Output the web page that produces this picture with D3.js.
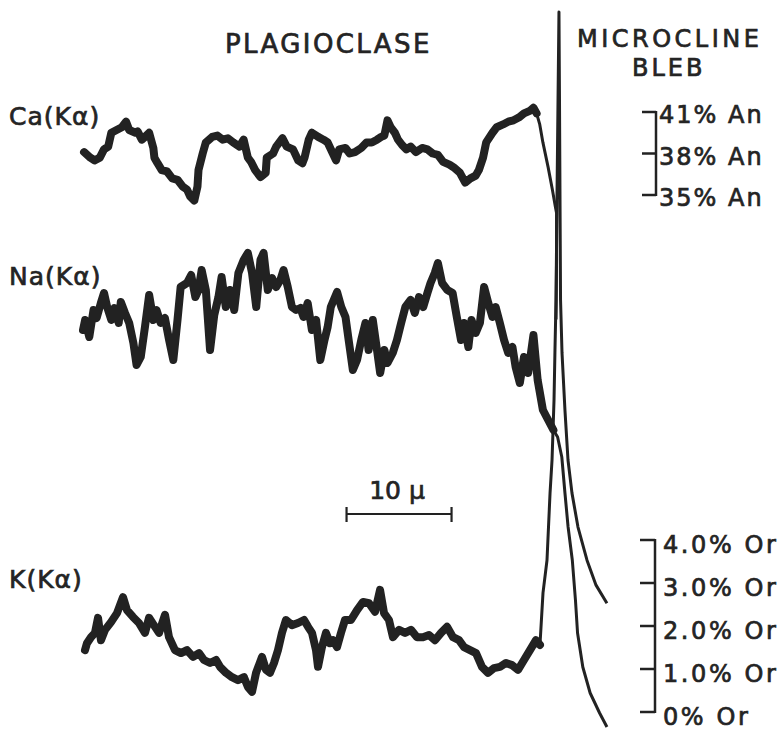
<!DOCTYPE html>
<html lang="en">
<head>
<meta charset="UTF-8">
<title>Plagioclase / microcline bleb traverse</title>
<script src="https://d3js.org/d3.v7.min.js"></script>
<style>
  html, body { margin: 0; padding: 0; background: #fff; }
  svg { display: block; }
  text { font-family: "DejaVu Sans", sans-serif; fill: #242424; stroke: #242424; stroke-width: 0.7px; }
</style>
</head>
<body>
<svg id="chart" width="784" height="730"></svg>
<script>
// --- Data: [distance along traverse (µm), reading] ---
// Ca(Kα) in % An
const caTrace = [[0.1,38.1],[0.7,37.7],[1.1,37.5],[1.6,37.7],[2.0,38.3],[2.4,38.5],[2.7,39.5],[3.2,39.7],[3.7,39.9],[4.1,40.3],[4.4,39.7],[5.0,39.5],[5.2,39.6],[5.6,39.0],[5.9,39.2],[6.3,39.5],[6.7,38.4],[6.8,37.7],[7.1,37.3],[7.5,36.8],[8.0,36.7],[8.5,36.2],[9.0,36.1],[9.5,35.6],[9.9,35.4],[10.2,34.9],[10.6,34.6],[10.9,35.6],[11.0,36.8],[11.4,38.0],[11.7,38.8],[12.3,39.2],[12.8,39.3],[13.3,39.0],[13.8,39.1],[14.3,38.8],[14.9,38.5],[15.3,39.0],[15.7,37.7],[16.0,37.4],[16.4,36.8],[16.9,36.3],[17.4,36.6],[17.5,37.7],[18.1,38.0],[18.4,38.5],[19.0,39.1],[19.4,38.5],[20.0,38.3],[20.5,37.5],[20.9,37.3],[21.1,37.7],[21.5,39.0],[21.8,39.5],[22.4,39.2],[22.9,39.0],[23.3,38.8],[24.1,37.5],[24.4,38.3],[25.0,38.4],[25.4,38.0],[25.9,38.1],[26.5,38.4],[27.0,38.8],[27.5,38.8],[28.0,39.0],[28.4,39.2],[28.7,39.3],[29.0,40.4],[29.3,39.9],[29.7,39.5],[30.0,39.0],[30.4,38.6],[30.8,38.3],[31.2,38.5],[31.7,38.1],[32.3,38.4],[32.8,38.3],[33.3,38.0],[33.8,37.9],[34.3,37.4],[34.9,37.2],[35.3,37.0],[35.9,36.6],[36.4,35.9],[36.9,36.2],[37.4,36.4],[37.7,36.8],[38.1,37.7],[38.4,38.8],[39.0,39.5],[39.4,39.9],[40.0,40.1],[40.5,40.3],[41.0,40.4],[41.5,40.6],[42.0,40.9],[42.6,41.1],[42.9,41.3],[43.2,40.9],[43.5,40.1],[43.8,38.8],[44.3,37.0],[44.7,35.4],[45.0,34.1],[45.1,33.7],[45.1,30.3],[45.05,26.0]];

// Na(Kα) in relative counts (no calibration given)
const naTrace = [[0.0,80.0],[0.2,82.0],[0.6,78.6],[1.0,84.0],[1.3,82.4],[1.7,85.4],[2.0,87.4],[2.3,84.6],[2.7,82.0],[3.0,84.4],[3.4,81.4],[3.6,85.6],[4.0,83.4],[4.4,81.4],[4.8,77.4],[5.1,73.0],[5.5,74.6],[5.9,80.6],[6.3,87.0],[6.7,82.0],[7.0,84.0],[7.4,81.4],[7.8,82.4],[8.2,78.0],[8.6,74.0],[9.0,82.0],[9.3,88.6],[9.9,89.4],[10.3,91.0],[10.7,86.6],[11.0,88.0],[11.3,92.0],[11.7,88.0],[12.1,76.0],[12.5,83.0],[12.9,86.6],[13.2,90.6],[13.6,84.6],[14.0,88.0],[14.4,84.0],[14.8,91.4],[15.3,94.0],[15.7,95.4],[16.1,91.4],[16.5,84.6],[16.9,94.0],[17.2,95.4],[17.6,88.0],[18.0,90.4],[18.4,88.6],[18.8,90.0],[19.1,92.0],[19.5,88.6],[19.9,84.6],[20.3,84.0],[20.7,84.4],[21.0,82.6],[21.4,85.4],[21.8,80.0],[22.2,82.0],[22.6,74.0],[23.0,78.0],[23.3,80.6],[23.6,84.6],[24.2,87.6],[24.6,84.6],[25.0,82.6],[25.3,78.0],[25.7,72.0],[26.1,74.0],[26.5,78.0],[26.9,81.4],[27.2,76.0],[27.6,82.0],[28.0,76.0],[28.3,71.4],[28.7,76.0],[29.0,73.4],[29.5,75.4],[29.9,78.0],[30.3,81.4],[30.7,84.6],[31.2,86.0],[31.6,83.4],[32.0,86.6],[32.4,84.6],[32.8,87.4],[33.1,89.4],[33.5,91.4],[33.8,93.4],[34.2,89.4],[34.7,88.0],[35.2,87.4],[35.6,82.6],[36.0,78.0],[36.3,81.4],[36.7,76.6],[37.0,82.0],[37.4,79.4],[37.8,81.4],[38.2,88.6],[38.6,85.4],[39.0,82.6],[39.3,84.6],[39.7,81.4],[40.1,78.0],[40.5,75.4],[40.9,76.6],[41.2,72.6],[41.6,69.4],[42.0,74.6],[42.4,71.4],[42.9,79.0],[43.3,70.0],[43.8,64.0],[44.3,62.0],[44.8,60.0],[45.2,58.6],[45.6,54.6],[45.9,47.4],[46.2,40.6],[46.6,34.0],[46.9,26.0],[47.1,19.4],[47.6,12.6],[48.3,7.4],[49.2,3.4],[49.9,0.6]];

// K(Kα) in % Or (runs off scale inside the microcline bleb)
const kTrace = [[0.19,1.44],[0.38,1.60],[0.76,1.74],[1.14,1.84],[1.43,2.19],[1.71,1.67],[2.10,1.91],[2.67,2.09],[3.24,2.30],[3.81,2.67],[4.19,2.37],[4.76,2.21],[5.33,2.07],[5.90,1.84],[6.29,2.19],[6.86,1.98],[7.24,1.84],[7.81,2.26],[8.19,1.74],[8.76,1.44],[9.33,1.37],[9.90,1.44],[10.48,1.28],[11.05,1.37],[11.52,1.21],[12.10,1.14],[12.67,1.21],[13.05,1.05],[13.62,0.91],[14.19,0.81],[14.76,0.74],[15.33,0.81],[15.71,0.58],[16.10,0.47],[16.48,0.91],[17.05,1.28],[17.43,0.98],[17.81,0.91],[18.19,1.14],[18.57,1.44],[18.95,1.84],[19.33,2.14],[19.90,2.02],[20.48,2.07],[21.05,2.14],[21.43,1.98],[21.81,1.84],[22.19,1.44],[22.38,1.05],[22.76,1.51],[23.14,1.84],[23.52,1.60],[23.81,1.67],[24.19,1.51],[24.57,1.84],[24.95,2.14],[25.52,2.14],[26.10,2.37],[26.67,2.56],[27.24,2.53],[27.81,2.33],[28.29,2.84],[28.67,2.30],[29.14,2.14],[29.52,1.74],[30.10,1.91],[30.67,1.84],[31.24,1.91],[31.81,1.74],[32.38,1.74],[32.95,1.79],[33.52,1.67],[34.10,1.84],[34.67,1.98],[35.24,1.74],[35.81,1.67],[36.29,1.51],[36.86,1.44],[37.43,1.37],[38.00,1.05],[38.57,0.91],[39.14,1.02],[39.71,1.05],[40.29,1.14],[40.86,1.09],[41.43,0.98],[42.00,1.21],[42.57,1.44],[43.14,1.67],[43.52,1.56],[43.81,2.77],[44.19,3.53],[44.48,5.09],[44.67,5.86],[44.86,7.26],[44.95,8.42],[45.05,9.58],[45.14,11.91],[45.24,14.23],[45.33,16.28],[45.38,14.23],[45.43,11.91],[45.48,9.58],[45.62,8.35],[45.90,7.02],[46.19,5.86],[46.57,5.09],[47.14,4.30],[48.00,3.53],[48.86,2.95],[49.90,2.53]];

// where each trace stops being a noisy counting band (µm)
const noisyUntil = { ca: 43.3, na: 44.8, k: 43.6 };

const caTicks = [41, 38, 35];
const caTickLabels = ["41% An", "38% An", "35% An"];
const kTicks = [4, 3, 2, 1, 0];
const kTickLabels = ["4.0% Or", "3.0% Or", "2.0% Or", "1.0% Or", "0% Or"];

const elementLabels = ["Ca(Kα)", "Na(Kα)", "K(Kα)"];
const scaleBar = { start: 25.1, length: 10, label: "10 μ" };

// --- Scales ---
const x = d3.scaleLinear().domain([0, 50]).range([83, 608]);
const yCa = d3.scaleLinear().domain([35, 41]).range([195, 112]);
const yNa = d3.scaleLinear().domain([0, 100]).range([730, 230]);
const yK = d3.scaleLinear().domain([0, 4]).range([712, 540]);

const svg = d3.select("#chart");
svg.append("rect").attr("width", 784).attr("height", 730).attr("fill", "#fff");

const ink = "#222";

function drawTrace(data, yScale, cutoff) {
  const line = d3.line().x(d => x(d[0])).y(d => yScale(d[1]));
  svg.append("path")
    .attr("d", line(data))
    .attr("fill", "none").attr("stroke", ink)
    .attr("stroke-width", 3).attr("stroke-linejoin", "round");
  svg.append("path")
    .attr("d", line(data.filter(d => d[0] <= cutoff)))
    .attr("fill", "none").attr("stroke", ink)
    .attr("stroke-width", 8).attr("stroke-linejoin", "round").attr("stroke-linecap", "round");
}

drawTrace(kTrace, yK, noisyUntil.k);
drawTrace(naTrace, yNa, noisyUntil.na);
drawTrace(caTrace, yCa, noisyUntil.ca);

// --- Titles ---
svg.append("text").attr("x", 225).attr("y", 53)
  .style("font-size", "26px").style("letter-spacing", "2.4px").text("PLAGIOCLASE");
svg.append("text").attr("x", 577).attr("y", 47)
  .style("font-size", "24px").style("letter-spacing", "3.5px").text("MICROCLINE");
svg.append("text").attr("x", 632).attr("y", 76)
  .style("font-size", "24px").style("letter-spacing", "3px").text("BLEB");

// --- Element labels ---
const labelY = [125, 285, 588];
elementLabels.forEach((t, i) => {
  svg.append("text").attr("x", 9).attr("y", labelY[i])
    .style("font-size", "25px").style("letter-spacing", "1px").text(t);
});

// --- Calibration brackets ---
function bracket(ticks, labels, yScale, xBar, xTick, xText, dy, spacing) {
  const g = svg.append("g").attr("stroke", ink).attr("stroke-width", 2.5).attr("fill", "none");
  g.append("line").attr("x1", xBar).attr("x2", xBar)
    .attr("y1", yScale(d3.max(ticks)) - 1).attr("y2", yScale(d3.min(ticks)) + 1);
  ticks.forEach((v, i) => {
    g.append("line").attr("x1", xTick).attr("x2", xBar).attr("y1", yScale(v)).attr("y2", yScale(v));
    svg.append("text").attr("x", xText).attr("y", yScale(v) + dy)
      .style("font-size", "24px").style("letter-spacing", spacing).text(labels[i]);
  });
}
bracket(caTicks, caTickLabels, yCa, 656, 642, 659, 11, "2px");
bracket(kTicks, kTickLabels, yK, 655, 640, 663, 13, "2.6px");

// --- Scale bar ---
const sb0 = x(scaleBar.start), sb1 = x(scaleBar.start + scaleBar.length);
const sg = svg.append("g").attr("stroke", ink).attr("stroke-width", 2.2);
sg.append("line").attr("x1", sb0).attr("x2", sb1).attr("y1", 514).attr("y2", 514);
sg.append("line").attr("x1", sb0).attr("x2", sb0).attr("y1", 507).attr("y2", 522);
sg.append("line").attr("x1", sb1).attr("x2", sb1).attr("y1", 507).attr("y2", 522);
svg.append("text").attr("x", 397).attr("y", 499).attr("text-anchor", "middle")
  .style("font-size", "25px").text(scaleBar.label);
</script>
</body>
</html>
